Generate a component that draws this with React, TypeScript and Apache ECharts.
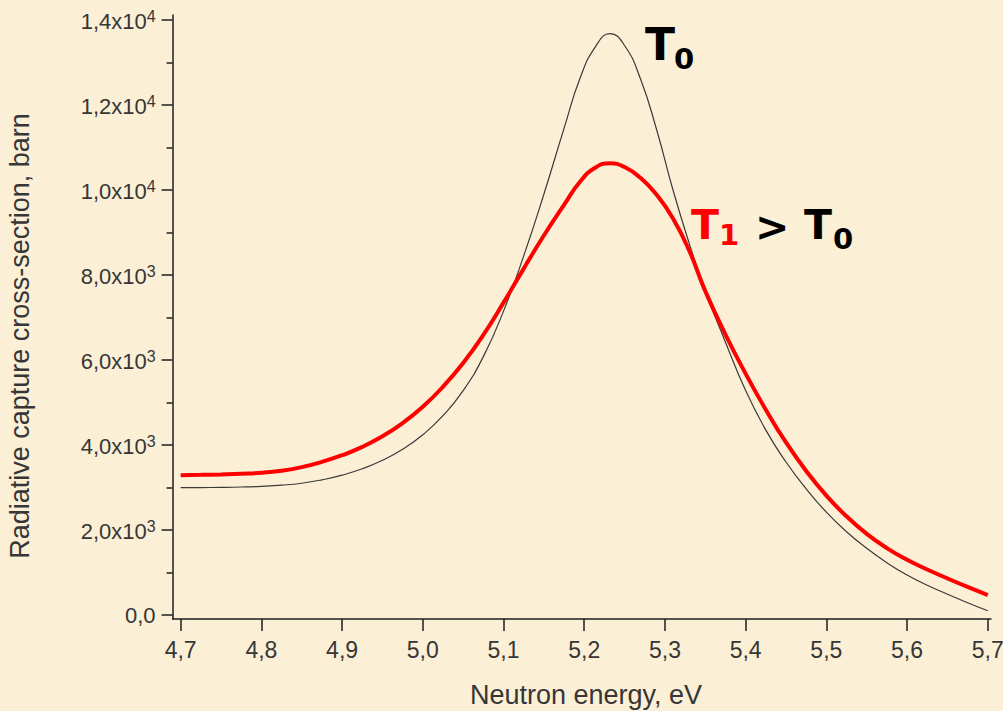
import React, { useEffect, useRef } from "react";
import * as echarts from "echarts";

// Neutron energy grid (eV)
const energy = [
  4.700, 4.725, 4.750, 4.775, 4.800, 4.825, 4.850, 4.875, 4.900, 4.925,
  4.950, 4.975, 5.000, 5.025, 5.050, 5.075, 5.100, 5.125, 5.150, 5.175,
  5.195, 5.214, 5.232, 5.250, 5.270, 5.290, 5.310, 5.330, 5.350, 5.375,
  5.400, 5.425, 5.450, 5.475, 5.500, 5.525, 5.550, 5.575, 5.600, 5.625,
  5.650, 5.675, 5.700,
];
// Radiative capture cross-section (barn) at T0
const sigmaT0 = [
  2995, 2998, 3003, 3012, 3028, 3055, 3100, 3180, 3290, 3440,
  3640, 3900, 4240, 4690, 5280, 6080, 7150, 8450, 9900, 11450,
  12640, 13375, 13680, 13400, 12600, 11400, 10000, 8750, 7620, 6420,
  5280, 4350, 3600, 2970, 2420, 1960, 1570, 1230, 940, 700,
  490, 290, 100,
];
// Radiative capture cross-section (barn) at T1 > T0
const sigmaT1 = [
  3290, 3298, 3308, 3322, 3345, 3395, 3480, 3605, 3760, 3955,
  4205, 4515, 4900, 5370, 5930, 6590, 7350, 8150, 8930, 9650,
  10200, 10530, 10630, 10540, 10280, 9880, 9330, 8580, 7620, 6600,
  5680, 4830, 4060, 3390, 2810, 2320, 1910, 1575, 1300, 1070,
  860, 660, 470,
];

const xTicks = [4.7, 4.8, 4.9, 5.0, 5.1, 5.2, 5.3, 5.4, 5.5, 5.6, 5.7];
const yTicks = [0, 2000, 4000, 6000, 8000, 10000, 12000, 14000];
const yMinorTicks = [1000, 3000, 5000, 7000, 9000, 11000, 13000];

const xTitle = "Neutron energy, eV";
const yTitle = "Radiative capture cross-section, barn";

const FONT = '"Liberation Sans", Arial, sans-serif';
const BOLD_FONT = '"DejaVu Sans", Verdana, sans-serif';

function yLabel(v: number): string {
  if (v === 0) return "{m|0,0}";
  const exp = Math.floor(Math.log10(v) + 1e-9);
  const m = v / Math.pow(10, exp);
  return `{m|${m.toFixed(1).replace(".", ",")}x10}{sup|${exp}}`;
}

export default function App() {
  const ref = useRef<HTMLDivElement>(null);

  useEffect(() => {
    if (!ref.current) return;
    const chart = echarts.init(ref.current, undefined, { renderer: "svg" });

    const t0 = energy.map((e, i) => [e, sigmaT0[i]]);
    const t1 = energy.map((e, i) => [e, sigmaT1[i]]);

    const axisColor = "#1e1e1e";
    const labelColor = "#363636";

    chart.setOption({
      animation: false,
      backgroundColor: "#fbefd6",
      grid: {
        left: 172.6,
        right: 12,
        top: 15,
        bottom: 92,
        containLabel: false,
        outerBoundsMode: "none",
      },
      xAxis: {
        type: "value",
        min: 4.69,
        max: 5.704,
        splitLine: { show: false },
        axisLine: { show: true, onZero: false, lineStyle: { color: axisColor, width: 1.5 } },
        axisTick: {
          show: true,
          inside: false,
          length: 12,
          customValues: xTicks,
          lineStyle: { color: axisColor, width: 1.5 },
        },
        axisLabel: {
          show: true,
          customValues: xTicks,
          margin: 19,
          fontFamily: FONT,
          fontSize: 23,
          color: labelColor,
          formatter: (v: number) => v.toFixed(1).replace(".", ","),
        },
      },
      yAxis: [
        {
          type: "value",
          min: -94,
          max: 14118,
          position: "left",
          splitLine: { show: false },
          axisLine: { show: true, onZero: false, lineStyle: { color: axisColor, width: 1.5 } },
          axisTick: {
            show: true,
            inside: false,
            length: 11,
            customValues: yTicks,
            lineStyle: { color: axisColor, width: 1.5 },
          },
          axisLabel: {
            show: true,
            customValues: yTicks,
            margin: 17,
            color: labelColor,
            formatter: yLabel,
            rich: {
              m: { fontFamily: FONT, fontSize: 22, color: labelColor, verticalAlign: "bottom" },
              sup: {
                fontFamily: FONT,
                fontSize: 16,
                color: labelColor,
                verticalAlign: "bottom",
                padding: [0, 0, 8, 0],
              },
            },
          },
        },
        {
          type: "value",
          min: -94,
          max: 14118,
          position: "left",
          splitLine: { show: false },
          axisLine: { show: false },
          axisLabel: { show: false },
          axisTick: {
            show: true,
            inside: false,
            length: 6,
            customValues: yMinorTicks,
            lineStyle: { color: axisColor, width: 1.5 },
          },
        },
      ],
      series: [
        {
          name: "T0",
          type: "line",
          data: t0,
          smooth: 0.5,
          showSymbol: false,
          symbol: "none",
          lineStyle: { color: "#3a3a3a", width: 1.2 },
          z: 2,
        },
        {
          name: "T1",
          type: "line",
          data: t1,
          smooth: 0.5,
          showSymbol: false,
          symbol: "none",
          lineStyle: { color: "#ff0000", width: 4 },
          z: 3,
        },
      ],
      graphic: [
        {
          type: "text",
          x: 586,
          y: 695,
          style: { text: xTitle, font: `27px ${FONT}`, fill: labelColor, align: "center", verticalAlign: "middle" },
        },
        {
          type: "text",
          x: 20,
          y: 336,
          rotation: Math.PI / 2,
          style: { text: yTitle, font: `27px ${FONT}`, fill: labelColor, align: "center", verticalAlign: "middle" },
        },
        { type: "text", x: 645, y: 44, style: { text: "T", font: `bold 44px ${BOLD_FONT}`, fill: "#000", align: "left", verticalAlign: "middle" } },
        { type: "text", x: 674, y: 59, style: { text: "0", font: `bold 29px ${BOLD_FONT}`, fill: "#000", align: "left", verticalAlign: "middle" } },
        { type: "text", x: 691, y: 225, style: { text: "T", font: `bold 41px ${BOLD_FONT}`, fill: "#ff0000", align: "left", verticalAlign: "middle" } },
        { type: "text", x: 719, y: 235, style: { text: "1", font: `bold 29px ${BOLD_FONT}`, fill: "#ff0000", align: "left", verticalAlign: "middle" } },
        { type: "text", x: 755, y: 227, style: { text: ">", font: `bold 41px ${BOLD_FONT}`, fill: "#000", align: "left", verticalAlign: "middle" } },
        { type: "text", x: 804, y: 225, style: { text: "T", font: `bold 41px ${BOLD_FONT}`, fill: "#000", align: "left", verticalAlign: "middle" } },
        { type: "text", x: 833, y: 239, style: { text: "0", font: `bold 29px ${BOLD_FONT}`, fill: "#000", align: "left", verticalAlign: "middle" } },
      ],
    });

    return () => chart.dispose();
  }, []);

  return (
    <div
      ref={ref}
      style={{ position: "fixed", left: 0, top: 0, width: 1003, height: 711 }}
    />
  );
}
